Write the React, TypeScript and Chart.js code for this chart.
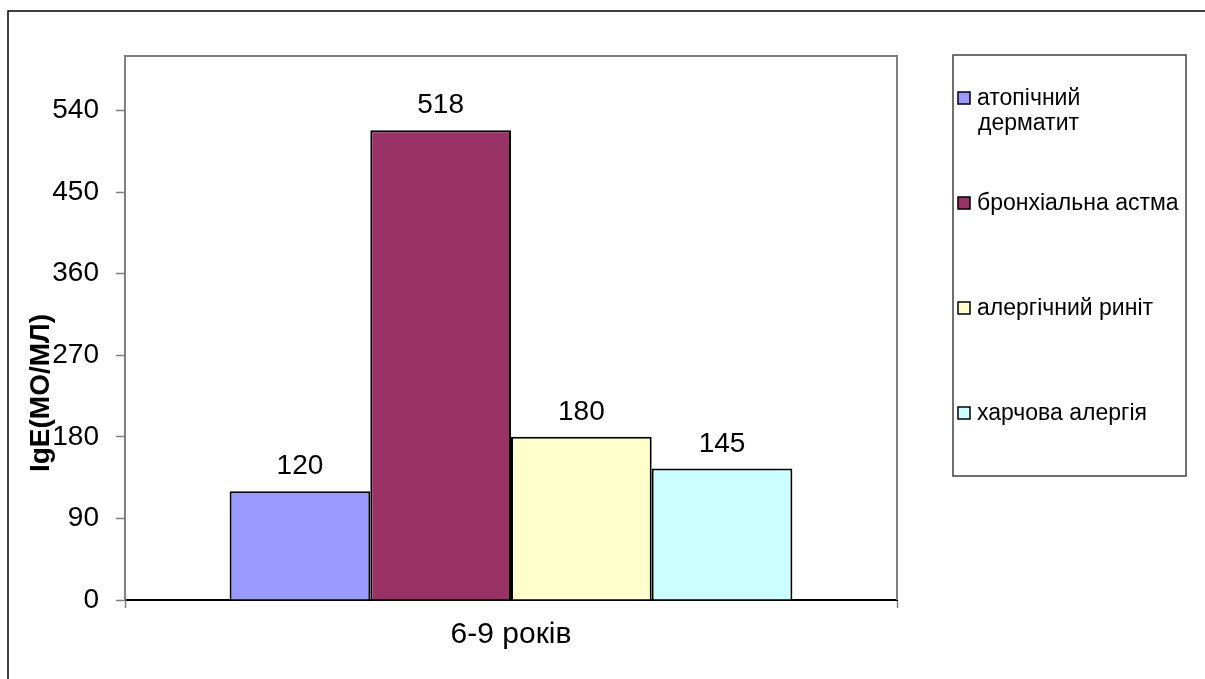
import { useEffect, useRef } from 'react';
import { Chart, registerables } from 'chart.js';

Chart.register(...registerables);

// Category, series and axis values
const categories = ['6-9 років'];
const seriesNames = ['атопічний\nдерматит', 'бронхіальна астма', 'алергічний риніт', 'харчова алергія'];
const seriesValues = [120, 518, 180, 145];
const yTicks = [0, 90, 180, 270, 360, 450, 540];
const yMax = 600;
const yTitle = 'IgE(МО/МЛ)';

// Series fills
const seriesColors = ['#9999FF', '#993366', '#FFFFCC', '#CCFFFF'];

const FONT = '"Liberation Sans", Arial, sans-serif';
const W = 1205;
const H = 679;

// Outer frame around the whole chart
const framePlugin = {
  id: 'outerFrame',
  beforeDraw(chart: any) {
    const ctx = chart.ctx;
    ctx.save();
    ctx.strokeStyle = '#000';
    ctx.lineWidth = 1.5;
    ctx.strokeRect(8, 11, W + 20, H + 20);
    ctx.restore();
  },
};

// Top and right edges of the plot area
const plotBorderPlugin = {
  id: 'plotBorder',
  afterDraw(chart: any) {
    const { ctx, chartArea } = chart;
    ctx.save();
    ctx.strokeStyle = '#808080';
    ctx.lineWidth = 2;
    ctx.beginPath();
    ctx.moveTo(chartArea.left, chartArea.top);
    ctx.lineTo(chartArea.right, chartArea.top);
    ctx.lineTo(chartArea.right, chartArea.bottom);
    ctx.stroke();
    ctx.restore();
  },
};

// Value labels above each bar
const valueLabelPlugin = {
  id: 'valueLabels',
  afterDatasetsDraw(chart: any) {
    const ctx = chart.ctx;
    ctx.save();
    ctx.fillStyle = '#000';
    ctx.font = `28px ${FONT}`;
    ctx.textAlign = 'center';
    ctx.textBaseline = 'alphabetic';
    chart.data.datasets.forEach((ds: any, i: number) => {
      const meta = chart.getDatasetMeta(i);
      meta.data.forEach((bar: any, j: number) => {
        ctx.fillText(String(ds.data[j]), bar.x, bar.y - 17);
      });
    });
    ctx.restore();
  },
};

// Rotated y-axis title
const yTitlePlugin = {
  id: 'yTitle',
  afterDraw(chart: any) {
    const ctx = chart.ctx;
    ctx.save();
    ctx.translate(41, 393);
    ctx.rotate(-Math.PI / 2);
    ctx.fillStyle = '#000';
    ctx.font = `bold 28px ${FONT}`;
    ctx.textAlign = 'center';
    ctx.textBaseline = 'middle';
    ctx.fillText(yTitle, 0, 0);
    ctx.restore();
  },
};

// Boxed legend on the right
const legendPlugin = {
  id: 'boxLegend',
  afterDraw(chart: any) {
    const ctx = chart.ctx;
    const box = { x: 953, y: 55, w: 233, h: 421 };
    ctx.save();
    ctx.strokeStyle = '#404040';
    ctx.lineWidth = 1.5;
    ctx.strokeRect(box.x, box.y, box.w, box.h);
    ctx.font = `23px ${FONT}`;
    ctx.textAlign = 'left';
    ctx.textBaseline = 'middle';
    const step = 105;
    chart.data.datasets.forEach((ds: any, i: number) => {
      const cy = box.y + 43 + i * step;
      ctx.fillStyle = ds.backgroundColor;
      ctx.fillRect(box.x + 5, cy - 6, 12, 12);
      ctx.strokeStyle = '#000';
      ctx.lineWidth = 1.5;
      ctx.strokeRect(box.x + 5, cy - 6, 12, 12);
      ctx.fillStyle = '#000';
      const lines = String(ds.label).split('\n');
      lines.forEach((line: string, k: number) => {
        ctx.fillText(line, box.x + 24 + (k > 0 ? 1 : 0), cy + 1 + k * 25);
      });
    });
    ctx.restore();
  },
};

export default function App() {
  const canvasRef = useRef<HTMLCanvasElement | null>(null);

  useEffect(() => {
    const canvas = canvasRef.current;
    if (!canvas) return;
    const chart = new Chart(canvas, {
      type: 'bar',
      data: {
        labels: categories,
        datasets: seriesNames.map((name, i) => ({
          label: name,
          data: [seriesValues[i]],
          backgroundColor: seriesColors[i],
          borderColor: '#000',
          borderWidth: 2,
          categoryPercentage: 0.729,
          barPercentage: 1,
        })),
      },
      options: {
        responsive: false,
        maintainAspectRatio: false,
        devicePixelRatio: 1,
        animation: false,
        layout: { padding: { left: 0, top: 56, right: 308, bottom: 0 } },
        plugins: {
          legend: { display: false },
          tooltip: { enabled: false },
          title: { display: false },
        },
        scales: {
          x: {
            offset: true,
            grid: {
              offset: true,
              drawOnChartArea: false,
              drawTicks: true,
              tickLength: 8,
              tickColor: '#808080',
              tickWidth: 1.5,
            },
            border: { display: true, color: '#000', width: 2 },
            ticks: {
              color: '#000',
              font: { family: FONT, size: 30 },
              padding: 9,
              maxRotation: 0,
            },
            afterFit(scale: any) {
              scale.height = H - 600;
            },
          },
          y: {
            min: 0,
            max: yMax,
            grid: {
              drawOnChartArea: false,
              drawTicks: true,
              tickLength: 9,
              tickColor: '#808080',
              tickWidth: 1.5,
            },
            border: { display: true, color: '#808080', width: 2 },
            ticks: {
              color: '#000',
              font: { family: FONT, size: 28 },
              padding: 17,
              stepSize: 90,
              includeBounds: false,
            },
            afterBuildTicks(scale: any) {
              scale.ticks = yTicks.map((v) => ({ value: v }));
            },
            afterFit(scale: any) {
              scale.width = 125;
            },
          },
        },
      },
      plugins: [framePlugin, plotBorderPlugin, valueLabelPlugin, yTitlePlugin, legendPlugin],
    });
    return () => chart.destroy();
  }, []);

  return (
    <div style={{ position: 'fixed', left: 0, top: 0, width: W, height: H, background: '#fff' }}>
      <canvas ref={canvasRef} width={W} height={H} style={{ display: 'block', width: W, height: H }} />
    </div>
  );
}
